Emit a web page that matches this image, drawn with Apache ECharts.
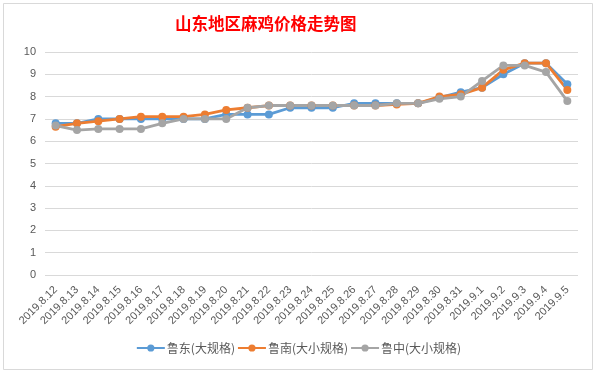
<!DOCTYPE html>
<html><head><meta charset="utf-8">
<script src="https://cdn.jsdelivr.net/npm/echarts@6/dist/echarts.min.js"></script>
<style>html,body{margin:0;padding:0;background:#fff}#c{width:597px;height:373px}</style>
</head><body><div id="c"></div>
<script>
const categories = ['2019.8.12','2019.8.13','2019.8.14','2019.8.15','2019.8.16','2019.8.17','2019.8.18','2019.8.19','2019.8.20','2019.8.21','2019.8.22','2019.8.23','2019.8.24','2019.8.25','2019.8.26','2019.8.27','2019.8.28','2019.8.29','2019.8.30','2019.8.31','2019.9.1','2019.9.2','2019.9.3','2019.9.4','2019.9.5'];
const ludong = [6.8,6.8,7.0,7.0,7.0,7.0,7.0,7.0,7.2,7.2,7.2,7.5,7.5,7.5,7.7,7.7,7.7,7.7,7.95,8.2,8.4,9.0,9.5,9.5,8.55];
const lunan  = [6.65,6.8,6.9,7.0,7.1,7.1,7.1,7.2,7.4,7.5,7.6,7.6,7.6,7.6,7.6,7.6,7.65,7.7,8.0,8.1,8.4,9.2,9.5,9.5,8.3];
const luzhong= [6.7,6.5,6.55,6.55,6.55,6.8,7.0,7.0,7.0,7.5,7.6,7.6,7.6,7.6,7.6,7.6,7.7,7.7,7.9,8.0,8.7,9.4,9.4,9.1,7.8];
const seriesNames = ['鲁东(大规格)','鲁南(大小规格)','鲁中(大小规格)'];
const colors = ['#5B9BD5','#ED7D31','#A5A5A5'];

const chart = echarts.init(document.getElementById('c'));
const mk = (name, data, color) => ({
  name, type:'line', data, symbol:'circle', symbolSize:8,
  itemStyle:{color}, lineStyle:{color, width:2.8}
});
chart.setOption({
  animation:false,
  backgroundColor:'#fff',
  graphic:[{type:'rect', shape:{x:3.5,y:3.5,width:589,height:366}, style:{fill:'none', stroke:'#d9d9d9', lineWidth:1}, silent:true}],
  title:{text:'山东地区麻鸡价格走势图', left:170, top:10,
    textStyle:{color:'#FF0000', fontSize:16.5, fontWeight:'bold', fontFamily:'Noto Sans CJK SC'}},
  legend:{bottom:14, left:'center', itemWidth:28, itemHeight:9, itemGap:2,
    textStyle:{color:'#595959', fontSize:12, fontFamily:'Noto Sans CJK SC', padding:[0,0,0,-3]},
    data:seriesNames},
  grid:{left:45, right:19, top:52, bottom:98},
  xAxis:{type:'category', data:categories, boundaryGap:true,
    axisLine:{show:false}, axisTick:{show:false},
    axisLabel:{rotate:45, color:'#595959', fontSize:11, margin:13, interval:0, fontFamily:'Liberation Sans'}},
  yAxis:{type:'value', min:0, max:10, interval:1,
    axisLine:{show:false}, axisTick:{show:false},
    splitLine:{lineStyle:{color:'#d9d9d9', width:1}},
    axisLabel:{color:'#595959', fontSize:11, margin:9, fontFamily:'Liberation Sans'}},
  series:[mk(seriesNames[0], ludong, colors[0]), mk(seriesNames[1], lunan, colors[1]), mk(seriesNames[2], luzhong, colors[2])]
});
</script></body></html>
